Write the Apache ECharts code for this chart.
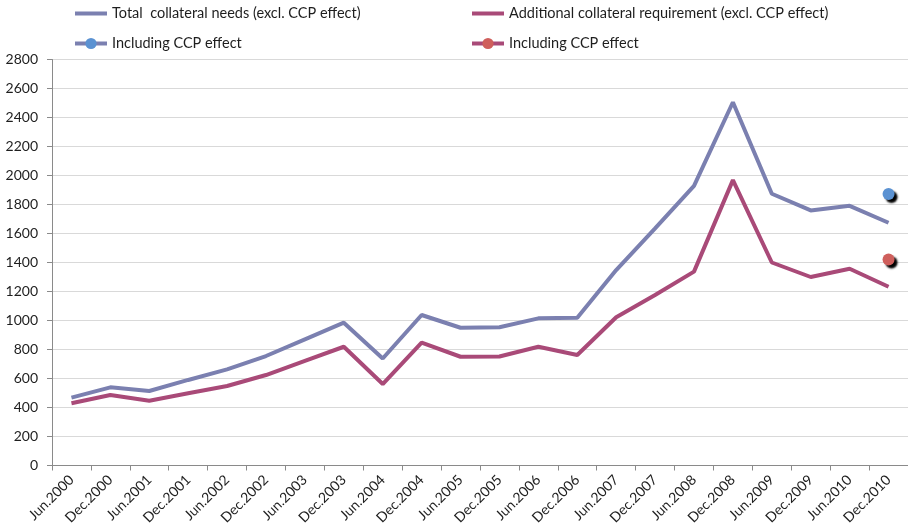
<!DOCTYPE html>
<html>
<head>
<meta charset="utf-8">
<script src="https://cdn.jsdelivr.net/npm/echarts@6/dist/echarts.min.js"></script>
<style>
  html, body { margin: 0; padding: 0; background: #fff; }
  #chart { width: 908px; height: 532px; }
</style>
</head>
<body>
<div id="chart"></div>
<script>
// Half-year reporting dates
const periods = [
  'Jun.2000', 'Dec.2000', 'Jun.2001', 'Dec.2001', 'Jun.2002', 'Dec.2002',
  'Jun.2003', 'Dec.2003', 'Jun.2004', 'Dec.2004', 'Jun.2005', 'Dec.2005',
  'Jun.2006', 'Dec.2006', 'Jun.2007', 'Dec.2007', 'Jun.2008', 'Dec.2008',
  'Jun.2009', 'Dec.2009', 'Jun.2010', 'Dec.2010'
];

// Total collateral needs, excluding the CCP effect
const totalNeeds = [
  468, 539, 514, 590, 663, 755, 870, 985, 738, 1038, 950, 953,
  1015, 1019, 1348, 1636, 1928, 2505, 1874, 1759, 1791, 1674
];

// Additional collateral requirement, excluding the CCP effect
const additionalReq = [
  429, 486, 447, 498, 548, 624, 722, 819, 562, 848, 750, 752,
  819, 762, 1022, 1176, 1337, 1968, 1400, 1300, 1357, 1233
];

// Values at the last date once the CCP effect is included
const totalWithCcp = [1872];
const additionalWithCcp = [1421];

const yTicks = { min: 0, max: 2800, interval: 200 };

const COL_TOTAL = '#7b80b0';
const COL_ADD = '#a94a78';
const DOT_TOTAL = '#5b92d2';
const DOT_ADD = '#cf5f5c';

// Place a single value at the last period
function lastOnly(vals) {
  const arr = periods.map(() => null);
  arr[periods.length - 1] = vals[0];
  return arr;
}

const NAME_T = 'Total  collateral needs (excl. CCP effect)';
const NAME_A = 'Additional collateral requirement (excl. CCP effect)';
const NAME_TC = 'Including CCP effect [total]';
const NAME_AC = 'Including CCP effect [additional]';

// Plain thick bar used as the legend key of the plain lines
const BAR_ICON = 'path://M0,0L0,0ZM0,5L32,5L32,9L0,9ZM32,14L32,14Z';

const font = 'Lato, "Open Sans", sans-serif';
const legendCommon = {
  orient: 'vertical',
  top: 0,
  itemWidth: 32,
  itemHeight: 14,
  itemGap: 13,
  textStyle: { fontFamily: font, fontSize: 14.5, color: '#1e1e1e', lineHeight: 17 },
  itemStyle: { shadowColor: 'rgba(0,0,0,0)', shadowBlur: 0, shadowOffsetX: 0, shadowOffsetY: 0 },
  lineStyle: { width: 4 },
  formatter: (n) => n.replace(/ \[.*\]$/, ''),
  selectedMode: false
};

const chart = echarts.init(document.getElementById('chart'), null, { renderer: 'canvas' });
chart.setOption({
  animation: false,
  backgroundColor: '#ffffff',
  legend: [
    Object.assign({ left: 68, data: [{ name: NAME_T, icon: BAR_ICON }, NAME_TC] }, legendCommon),
    Object.assign({ left: 465, data: [{ name: NAME_A, icon: BAR_ICON }, NAME_AC] }, legendCommon)
  ],
  grid: { left: 52, top: 59.5, width: 856, height: 406, containLabel: false },
  xAxis: {
    type: 'category',
    data: periods,
    boundaryGap: true,
    axisLine: { lineStyle: { color: '#8a8a8a', width: 1 } },
    axisTick: { show: true, length: 5, lineStyle: { color: '#8a8a8a' } },
    axisLabel: {
      rotate: 45, margin: 12, interval: 0,
      fontFamily: font, fontSize: 14, color: '#1e1e1e'
    },
    splitLine: { show: false }
  },
  yAxis: {
    type: 'value',
    min: yTicks.min, max: yTicks.max, interval: yTicks.interval,
    axisLine: { show: true, lineStyle: { color: '#8a8a8a', width: 1 } },
    axisTick: { show: true, length: 5, lineStyle: { color: '#8a8a8a' } },
    axisLabel: {
      margin: 14, fontFamily: font, fontSize: 14, color: '#1e1e1e',
      formatter: (v) => String(v)
    },
    splitLine: { show: true, lineStyle: { color: '#d9d9d9', width: 1 } }
  },
  series: [
    {
      name: NAME_T, type: 'line', data: totalNeeds,
      symbol: 'none', showSymbol: false,
      lineStyle: { color: COL_TOTAL, width: 4 },
      itemStyle: { color: COL_TOTAL }
    },
    {
      name: NAME_A, type: 'line', data: additionalReq,
      symbol: 'none', showSymbol: false,
      lineStyle: { color: COL_ADD, width: 4 },
      itemStyle: { color: COL_ADD }
    },
    {
      name: NAME_TC, type: 'line', data: lastOnly(totalWithCcp),
      symbol: 'circle', symbolSize: 12, showSymbol: true, connectNulls: false,
      lineStyle: { color: COL_TOTAL, width: 4 },
      itemStyle: {
        color: DOT_TOTAL, borderWidth: 0,
        shadowColor: '#000', shadowBlur: 2, shadowOffsetX: 3, shadowOffsetY: 3
      },
      z: 5
    },
    {
      name: NAME_AC, type: 'line', data: lastOnly(additionalWithCcp),
      symbol: 'circle', symbolSize: 12, showSymbol: true, connectNulls: false,
      lineStyle: { color: COL_ADD, width: 4 },
      itemStyle: {
        color: DOT_ADD, borderWidth: 0,
        shadowColor: '#000', shadowBlur: 2, shadowOffsetX: 3, shadowOffsetY: 3
      },
      z: 5
    }
  ]
});
</script>
</body>
</html>
